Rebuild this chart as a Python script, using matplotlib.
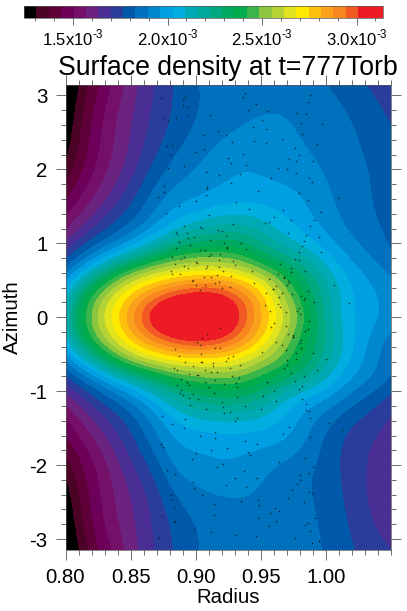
# Surface density map at t=777 Torb, with tracer particles on top

import numpy as np
import matplotlib
matplotlib.use('Agg')
import matplotlib.pyplot as plt
import matplotlib.tri as mtri
from matplotlib.colors import ListedColormap, BoundaryNorm
from matplotlib.ticker import MultipleLocator

plt.rcParams['font.family'] = ['Liberation Sans', 'DejaVu Sans']
plt.rcParams['mathtext.fontset'] = 'custom'
plt.rcParams['mathtext.rm'] = 'Liberation Sans'

#Colour bands of the table
band_colors = ['#000000', '#4a0324', '#5f0038', '#6d0058', '#751068', '#6c2380',
               '#4b2e93', '#2b3d9b', '#005aa9', '#0071bc', '#0088ce', '#009fe3',
               '#00aee0', '#00aab5', '#00a99d', '#00a980', '#00a960', '#00ac4c',
               '#39b54a', '#8cc63f', '#b5d334', '#e1e31f', '#fee900', '#fdc00f',
               '#faa21b', '#f7861f', '#f15a25', '#ed1c24', '#ed1c24']
level_min = 1.24e-3
level_max = 3.14e-3

#Grid, in units of one colour band above level_min
radius = [0.8, 0.8167, 0.8333, 0.85, 0.8667, 0.8833, 0.9, 0.9167,
          0.9333, 0.95, 0.9667, 0.9833, 1.0, 1.0167, 1.0333, 1.05]
azimuth = [-3.1416, -2.5, -2.0, -1.5, -1.0, -0.75, -0.5, -0.25, 0.0,
           0.25, 0.5, 0.75, 1.0, 1.5, 2.0, 2.5, 3.1416]
bands = [
  [-0.7, 2.0, 3.75, 5.5, 6.9, 8.05, 9.0, 9.3, 9.4, 9.5, 9.4, 9.2, 9.0, 8.2, 7.5, 7.0],
  [0.2, 2.8, 4.6, 5.9, 7.2, 8.7, 9.5, 9.8, 9.9, 9.8, 9.6, 9.2, 8.7, 7.8, 6.9, 6.2],
  [1.4, 3.4, 5.0, 6.8, 8.2, 10.2, 10.6, 10.9, 10.8, 10.3, 9.8, 9.3, 8.6, 7.6, 6.9, 6.2],
  [3.3, 5.0, 6.6, 8.0, 9.8, 11.4, 12.0, 12.2, 12.2, 12.1, 11.6, 10.4, 9.0, 8.0, 7.3, 6.7],
  [6.0, 7.8, 9.4, 11.0, 13.0, 15.0, 16.3, 16.9, 16.8, 15.8, 14.0, 12.7, 11.7, 10.2, 9.2, 8.0],
  [8.2, 10.5, 13.0, 15.5, 17.5, 18.9, 19.5, 19.8, 19.5, 18.2, 17.3, 15.8, 13.5, 11.6, 10.3, 9.4],
  [10.8, 14.5, 18.3, 21.1, 22.6, 23.6, 23.9, 23.6, 22.8, 21.0, 19.0, 17.0, 14.8, 12.3, 10.6, 9.0],
  [13.0, 18.0, 21.0, 23.7, 25.8, 27.8, 28.6, 28.2, 26.0, 23.5, 20.3, 17.3, 15.0, 12.5, 11.0, 9.8],
  [14.0, 18.5, 22.0, 25.0, 28.3, 30.5, 31.0, 30.0, 27.5, 24.2, 21.5, 18.3, 14.5, 12.2, 11.3, 10.7],
  [13.0, 18.0, 21.0, 23.7, 25.8, 27.7, 28.8, 28.6, 26.5, 24.0, 20.3, 17.3, 14.5, 12.3, 11.3, 10.6],
  [10.8, 14.5, 18.3, 21.1, 22.6, 23.6, 24.1, 24.2, 23.4, 21.5, 18.7, 16.2, 14.0, 12.0, 11.0, 10.2],
  [8.2, 10.5, 13.0, 15.5, 17.8, 19.1, 19.8, 19.7, 19.0, 17.3, 16.0, 14.5, 12.7, 11.2, 10.2, 9.3],
  [6.0, 8.0, 9.5, 11.0, 12.9, 14.9, 16.0, 16.4, 16.4, 15.0, 13.5, 12.5, 11.4, 10.3, 9.6, 8.8],
  [3.3, 5.0, 6.5, 8.0, 9.6, 10.8, 11.4, 11.9, 12.1, 12.0, 11.7, 11.1, 10.3, 9.6, 9.0, 8.8],
  [1.2, 3.4, 5.0, 6.5, 8.2, 9.4, 10.0, 10.6, 11.0, 10.9, 10.6, 10.3, 9.9, 9.3, 9.0, 8.6],
  [0.2, 2.75, 4.6, 6.0, 7.3, 8.35, 9.2, 9.7, 10.1, 10.3, 10.2, 9.9, 9.6, 9.2, 8.7, 8.1],
  [-0.7, 2.0, 3.75, 5.5, 6.9, 8.05, 9.0, 9.3, 9.5, 9.6, 9.6, 9.4, 9.05, 8.5, 7.9, 7.4],
]

#Tracer particles, rough positions
dots_r = [0.871, 0.874, 0.878, 0.883, 0.886, 0.889, 0.893, 0.897, 0.901, 0.905, 0.909, 0.913,
          0.917, 0.921, 0.926, 0.93, 0.934, 0.938, 0.943, 0.947, 0.951, 0.955, 0.96, 0.964,
          0.968, 0.972, 0.977, 0.981, 0.986, 0.99, 0.873, 0.877, 0.881, 0.885, 0.891, 0.895,
          0.899, 0.903, 0.907, 0.911, 0.915, 0.919, 0.923, 0.927, 0.932, 0.936, 0.94, 0.945,
          0.949, 0.953, 0.957, 0.962, 0.966, 0.97, 0.974, 0.979, 0.983, 0.988, 0.992, 0.996,
          0.879, 0.884, 0.887, 0.892, 0.896, 0.9, 0.904, 0.908, 0.912, 0.916, 0.92, 0.924,
          0.928, 0.933, 0.937, 0.941, 0.946, 0.95, 0.954, 0.958, 0.961, 0.965, 0.969, 0.973,
          0.978, 0.982, 0.987, 0.991, 0.995, 1.002, 0.88, 0.882, 0.888, 0.89, 0.894, 0.898,
          0.902, 0.906, 0.91, 0.914, 0.918, 0.922, 0.925, 0.929, 0.931, 0.935, 0.939, 0.942,
          0.944, 0.948, 0.952, 0.956, 0.959, 0.963, 0.967, 0.971, 0.975, 0.976, 0.98, 0.984,
          0.985, 0.989, 0.993, 0.997, 1.006, 1.012, 1.018, 0.872, 0.876, 0.886, 0.892, 0.9,
          0.908, 0.916, 0.924, 0.932, 0.94, 0.948, 0.956, 0.964, 0.972, 0.98, 0.988, 0.996,
          0.875, 0.883, 0.891, 0.899, 0.907, 0.915, 0.923, 0.931, 0.939, 0.947, 0.955, 0.963,
          0.971, 0.979, 0.987, 0.995, 0.882, 0.89, 0.898, 0.906, 0.914, 0.922, 0.93, 0.938,
          0.946, 0.954, 0.962, 0.97, 0.978, 0.986, 1.0, 1.009, 0.953, 0.958, 0.962, 0.966,
          0.969, 0.973, 0.977, 0.981, 0.984, 0.951, 0.956, 0.96, 0.964, 0.968, 0.971, 0.975,
          0.979, 0.983, 0.986, 0.99, 0.882, 0.887, 0.891, 0.895, 0.9, 0.905, 0.91, 0.915,
          0.92, 0.926, 0.884, 0.889, 0.893, 0.898, 0.903, 0.908, 0.912, 0.918, 0.923, 0.929,
          0.934, 0.905, 0.909, 0.903, 0.907, 0.912, 0.901, 0.915, 0.919,
          0.881, 0.884, 0.888, 0.891, 0.894, 0.897, 0.9, 0.903, 0.906, 0.909, 0.912, 0.915,
          0.918, 0.921, 0.924, 0.927, 0.93, 0.886, 0.889, 0.892, 0.895, 0.898, 0.901, 0.904,
          0.907, 0.91, 0.913, 0.916, 0.919, 0.922, 0.925, 0.928, 0.883, 0.887, 0.893, 0.899,
          0.905, 0.911, 0.917, 0.923, 0.929, 0.935, 0.885, 0.89, 0.896, 0.902, 0.908, 0.914,
          0.92, 0.926, 0.932, 0.938, 0.96, 0.963, 0.966, 0.969, 0.972, 0.975, 0.978, 0.981,
          0.984, 0.987, 0.959, 0.962, 0.965, 0.968, 0.971, 0.974, 0.977, 0.98, 0.983, 0.986,
          0.97, 0.973, 0.976, 0.979, 0.982, 0.985, 0.988, 0.991, 0.967, 0.97, 0.973, 0.976,
          0.979, 0.982, 0.985, 0.988, 0.891, 0.9, 0.909, 0.918, 0.927, 0.936, 0.945, 0.954,
          0.894, 0.903, 0.912, 0.921, 0.93, 0.939, 0.948, 0.957, 0.984, 0.987, 0.99, 0.993,
          0.981, 0.984, 0.987, 0.99, 0.874, 0.876, 0.879, 0.882, 0.885, 0.873, 0.875, 0.878,
          0.881, 0.884, 0.976, 0.979, 0.982, 0.985, 0.988, 0.977, 0.98, 0.983, 0.986, 0.989]
dots_az = [1.62, -1.34, 2.31, -2.77, 1.12, -0.98, 2.84, -1.92, 0.74, -2.41, 1.73, -0.66,
           2.52, -1.21, 0.41, -2.95, 1.94, -1.67, 0.62, -2.18, 2.67, -0.87, 1.36, -2.62,
           0.53, -1.48, 2.11, -0.31, 1.58, -2.03, -1.71, 1.41, -2.46, 0.93, 2.05, -1.09,
           -2.86, 1.22, -0.72, 2.73, -1.55, 0.86, -2.27, 1.81, -0.95, 2.98, -1.82, 0.47,
           -2.54, 1.27, 0.09, -1.13, 2.41, -0.58, -2.33, 0.78, 1.03, -1.62, -2.71, 0.88,
           2.66, -2.12, 1.51, -1.38, 0.98, 2.23, -0.61, 1.66, -2.91, 0.57, 1.17, -1.77,
           2.37, -0.82, -2.08, 1.46, 2.89, -1.24, 0.33, 1.88, -2.58, 0.72, -0.44, 1.31,
           2.76, -0.93, -2.37, 0.21, 1.09, -1.43, 2.19, 0.82, -1.02, 2.94, 1.07, -2.23,
           -0.78, 2.46, 1.38, -2.68, 0.68, -1.29, 2.16, -0.53, 1.56, -2.49, 0.92, -1.87,
           2.58, 1.71, -1.06, -2.83, 0.38, 2.02, -1.58, 1.14, -0.24, 2.29, -2.14, 0.63,
           -1.18, 1.83, -0.71, 2.61, 0.44, -1.52, 0.19, -2.98, 1.78, -0.91, 2.98, -1.83,
           1.96, -2.03, 0.95, -1.36, 2.81, -2.72, 1.29, -1.96, 2.14, -0.35, -2.89, 1.43,
           2.69, -2.58, 1.24, -2.31, 0.91, -1.64, 2.47, -0.89, 2.06, -1.72, 2.79, 0.59,
           -2.44, 1.68, -1.27, -3.02, -1.45, 2.87, -1.04, 2.27, -2.52, 1.01, -1.41, 3.04,
           -2.96, 2.36, -2.76, 2.01, -2.26, 2.91, -0.56, 1.61, 0.17, -0.13, 0.42, -0.38,
           0.07, 0.61, -0.57, 0.29, -0.18, -0.47, 0.52, -0.08, 0.27, -0.69, 0.49, -0.27,
           0.12, -0.79, 0.36, -0.49, 0.58, -0.52, 0.69, -0.77, 0.44, -0.61, 0.83, -0.85,
           0.39, -0.68, -0.43, 0.79, -0.88, 0.51, -0.37, 0.66, -0.74, 0.48, -0.59, 0.76,
           -0.64, -0.28, -0.22, 0.37, 0.43, 0.55, -0.34, -0.41, -0.15,
           0.63, 0.72, 0.58, 0.81, 0.66, 0.49, 0.75, 0.91, 0.54, 0.69, 0.85, 0.47, 0.78,
           0.62, 0.94, 0.56, 0.71, -0.71, -0.83, -0.6, -0.92, -0.66, -0.78, -0.5, -0.87,
           -0.95, -0.62, -0.74, -0.42, -0.9, -0.55, -0.8, -0.68, 1.02, 1.14, 1.08, 1.21,
           1.05, 1.18, 1.1, 1.26, 1.0, 1.15, -1.05, -1.19, -1.1, -1.24, -1.03, -1.15, -1.28,
           -1.08, -1.2, -1.0, 0.18, 0.33, -0.12, 0.46, -0.27, 0.09, -0.41, 0.26, -0.05, 0.38,
           -0.33, 0.14, 0.55, -0.22, 0.31, -0.48, 0.04, 0.24, -0.16, 0.43, 0.67, 0.79, 0.88,
           0.97, 1.11, 1.23, 1.32, 1.45, -0.64, -0.76, -0.86, -0.97, -1.1, -1.25, -1.36, -1.5,
           1.57, 1.76, 1.93, 2.08, 2.21, 2.39, 2.55, 2.72, -1.61, -1.8, -1.99, -2.17, -2.3,
           -2.47, -2.65, -2.81, 1.88, 2.12, 2.34, 2.63, -1.9, -2.11, -2.38, -2.69, 1.69, 2.02,
           2.33, 2.7, 2.96, -1.75, -2.06, -2.4, -2.75, -2.99, 2.2, 2.48, 2.75, 3.0, 1.95, -2.2,
           -2.5, -2.78, -3.05]

#Levels and colours
levels = np.linspace(level_min, level_max, len(band_colors) + 1)
step = levels[1] - levels[0]
cmap = ListedColormap(band_colors)
norm = BoundaryNorm(levels, cmap.N)

#Fine grid from the read-off one, then smoothed so the contours are not kinked
rr, aa = np.meshgrid(radius, azimuth)
sigma = level_min + step * np.array(bands)
tri = mtri.Triangulation(rr.ravel(), aa.ravel() / 10.0)
interp = mtri.CubicTriInterpolator(tri, sigma.ravel(), kind='min_E')
r_fine = np.linspace(radius[0], radius[-1], 400)
a_fine = np.linspace(azimuth[0], azimuth[-1], 500)
rf, af = np.meshgrid(r_fine, a_fine)
sigma_fine = np.ma.filled(interp(rf, af / 10.0), level_min)

def smooth(data, width, axis):
  #gaussian kernel along one axis, edges reflected
  x = np.arange(-3 * width, 3 * width + 1)
  kernel = np.exp(-0.5 * (x / width) ** 2)
  kernel /= kernel.sum()
  pad = [(0, 0), (0, 0)]
  pad[axis] = (3 * width, 3 * width)
  padded = np.pad(data, pad, mode='reflect', reflect_type='odd')
  return np.apply_along_axis(lambda v: np.convolve(v, kernel, mode='valid'), axis, padded)

sigma_fine = smooth(smooth(sigma_fine, 14, 1), 12, 0)
sigma_fine = np.clip(sigma_fine, level_min + 1e-7, level_max - 1e-7)

#Figure, 407x611 px
W, H = 407.0, 611.0
fig = plt.figure(figsize=(W / 100, H / 100), dpi=100)
ax = fig.add_axes([65.5 / W, 1 - 549.5 / H, (391 - 65.5) / W, (549.5 - 85) / H])
cax = fig.add_axes([24 / W, 1 - 18 / H, (383 - 24) / W, 12 / H])

cf = ax.contourf(rf, af, sigma_fine, levels=levels, cmap=cmap, norm=norm)
ax.scatter(dots_r, dots_az, s=1.5, c='black', alpha=0.6, linewidths=0)

ax.set_xlim(0.8, 1.05)
ax.set_ylim(-np.pi, np.pi)
ax.set_xticks([0.8, 0.85, 0.9, 0.95, 1.0])
ax.set_xticklabels(['0.80', '0.85', '0.90', '0.95', '1.00'])
ax.set_yticks([-3, -2, -1, 0, 1, 2, 3])
ax.set_yticklabels(['-3', '-2', '-1', '0', '1', '2', '3'])
ax.xaxis.set_minor_locator(MultipleLocator(0.01))
ax.yaxis.set_minor_locator(MultipleLocator(0.2))
ax.tick_params(which='both', direction='out', top=True, right=True, color='#555555', width=0.6)
ax.tick_params(which='major', length=7, labelsize=14.7, pad=6)
ax.tick_params(which='minor', length=3.5)
for s in ax.spines.values():
    s.set_linewidth(0.5)
    s.set_color('#555555')
ax.set_xlabel('Radius', fontsize=14.7, labelpad=1)
ax.set_ylabel('Azimuth', fontsize=14.7, labelpad=5)
ax.set_title('Surface density at t=777Torb', fontsize=19.2, pad=7)

#Colour bar
cb = fig.colorbar(cf, cax=cax, orientation='horizontal', drawedges=False)
cb.set_ticks([1.5e-3, 2.0e-3, 2.5e-3, 3.0e-3])
cb.set_ticklabels([r'1.5x10$^{\text{-3}}$', r'2.0x10$^{\text{-3}}$',
                   r'2.5x10$^{\text{-3}}$', r'3.0x10$^{\text{-3}}$'])
cax.xaxis.set_minor_locator(MultipleLocator(1e-4))
cax.tick_params(which='major', length=5, labelsize=12, color='#555555', width=0.6, pad=2)
cax.tick_params(which='minor', length=2.5, color='#555555', width=0.6)
cb.outline.set_linewidth(0.5)
cb.outline.set_edgecolor('#555555')

fig.savefig('out.png', dpi=100)
